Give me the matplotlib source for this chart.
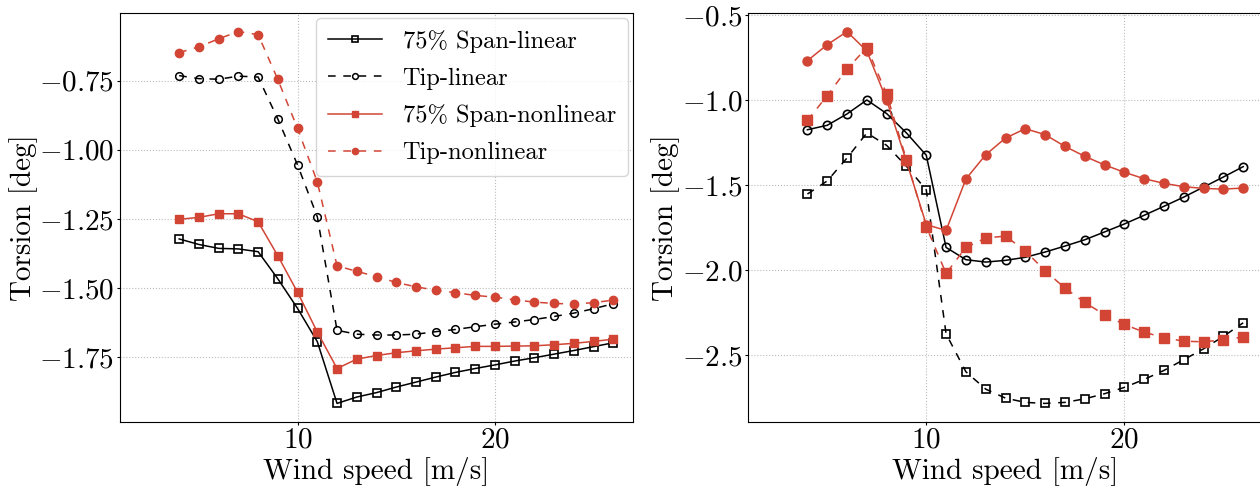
import numpy as np
import matplotlib
matplotlib.use("Agg")
import matplotlib.pyplot as plt

# LaTeX-like look with the bundled Computer Modern fonts
plt.rcParams["font.family"] = "serif"
plt.rcParams["font.serif"] = ["cmr10"]
plt.rcParams["mathtext.fontset"] = "cm"
plt.rcParams["axes.formatter.use_mathtext"] = True
plt.rcParams["axes.unicode_minus"] = True

wind = np.arange(4, 27)

# left panel
span_lin_L = [-1.322, -1.342, -1.356, -1.358, -1.368, -1.466, -1.573, -1.693, -1.916, -1.893,
              -1.877, -1.857, -1.839, -1.821, -1.804, -1.790, -1.777, -1.763, -1.751, -1.738,
              -1.725, -1.711, -1.697]
tip_lin_L = [-0.732, -0.743, -0.745, -0.734, -0.737, -0.889, -1.055, -1.242, -1.652, -1.666,
             -1.669, -1.669, -1.666, -1.657, -1.649, -1.639, -1.630, -1.622, -1.613, -1.602,
             -1.590, -1.574, -1.556]
span_nl_L = [-1.251, -1.244, -1.231, -1.231, -1.260, -1.383, -1.515, -1.658, -1.790, -1.756,
             -1.743, -1.733, -1.726, -1.720, -1.715, -1.710, -1.710, -1.709, -1.708, -1.704,
             -1.699, -1.692, -1.684]
tip_nl_L = [-0.649, -0.628, -0.599, -0.573, -0.584, -0.746, -0.923, -1.116, -1.419, -1.439,
            -1.458, -1.479, -1.495, -1.507, -1.516, -1.526, -1.532, -1.542, -1.550, -1.555,
            -1.557, -1.552, -1.543]

# right panel
black_solid_R = [-1.175, -1.149, -1.082, -1.000, -1.080, -1.194, -1.325, -1.867, -1.939, -1.953,
                 -1.943, -1.925, -1.894, -1.859, -1.822, -1.776, -1.729, -1.678, -1.625, -1.571,
                 -1.512, -1.453, -1.392]
black_dash_R = [-1.553, -1.476, -1.341, -1.194, -1.267, -1.390, -1.529, -2.375, -2.598, -2.700,
                -2.753, -2.778, -2.784, -2.778, -2.757, -2.727, -2.690, -2.643, -2.590, -2.527,
                -2.463, -2.390, -2.310]
red_solid_R = [-0.769, -0.675, -0.598, -0.712, -1.000, -1.361, -1.733, -1.767, -1.465, -1.322,
               -1.224, -1.169, -1.204, -1.273, -1.331, -1.382, -1.425, -1.463, -1.490, -1.510,
               -1.520, -1.524, -1.518]
red_dash_R = [-1.120, -0.975, -0.818, -0.692, -0.965, -1.351, -1.745, -2.020, -1.867, -1.812,
              -1.800, -1.888, -2.004, -2.106, -2.190, -2.263, -2.320, -2.365, -2.398, -2.418,
              -2.422, -2.410, -2.394]

labels = ["75% Span-linear", "Tip-linear", "75% Span-nonlinear", "Tip-nonlinear"]
red = "#d24535"
tick_fs = 21
label_fs = 21

fig = plt.figure(figsize=(12.6, 4.88), dpi=100)
ax1 = fig.add_axes([120 / 1260, 66 / 488, 513 / 1260, 409 / 488])
ax2 = fig.add_axes([748 / 1260, 66 / 488, 515 / 1260, 409 / 488])

ax1.plot(wind, span_lin_L, "-", color="k", lw=1.1, marker="s", ms=5.5, mfc="none", mew=1.2, label=labels[0])
ax1.plot(wind, tip_lin_L, "--", color="k", lw=1.1, marker="o", ms=5.5, mfc="none", mew=1.1, label=labels[1],
         dashes=(5, 5))
ax1.plot(wind, span_nl_L, "-", color=red, lw=1.1, marker="s", ms=6, label=labels[2])
ax1.plot(wind, tip_nl_L, "--", color=red, lw=1.1, marker="o", ms=6, label=labels[3], dashes=(5, 5))

ax2.plot(wind, black_solid_R, "-", color="k", lw=1.1, marker="o", ms=6, mfc="none", mew=1.2)
ax2.plot(wind, black_dash_R, "--", color="k", lw=1.1, marker="s", ms=6, mfc="none", mew=1.2, dashes=(5, 5))
ax2.plot(wind, red_solid_R, "-", color=red, lw=1.1, marker="o", ms=6.5)
ax2.plot(wind, red_dash_R, "--", color=red, lw=1.1, marker="s", ms=6.5, dashes=(5, 5))

for ax in (ax1, ax2):
    ax.set_xlim(1, 27)
    ax.set_xticks([10, 20])
    ax.grid(True, ls=":", color="#bbbbbb", lw=0.8)
    ax.tick_params(labelsize=tick_fs, length=2.5, pad=1.5)
    ax.set_xlabel("Wind speed [m/s]", fontsize=label_fs, labelpad=2)
    ax.set_ylabel("Torsion [deg]", fontsize=label_fs, labelpad=1)

ax1.set_yticks([-0.75, -1.0, -1.25, -1.5, -1.75])
ax2.set_yticks([-0.5, -1.0, -1.5, -2.0, -2.5])

leg = ax1.legend(fontsize=17.6, loc="upper right", handlelength=2.2, handletextpad=0.86,
                 borderpad=0.5, labelspacing=0.6, borderaxespad=0.2, markerscale=0.75)

fig.savefig("out.png", dpi=100)
